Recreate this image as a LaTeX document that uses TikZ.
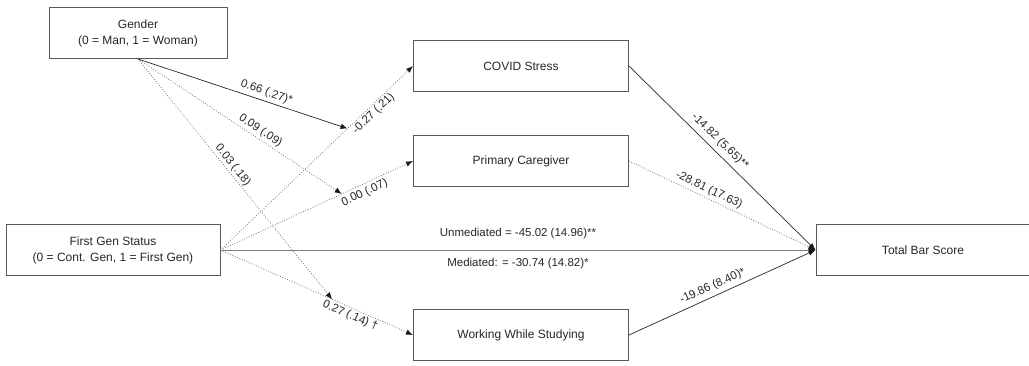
\documentclass[tikz,border=0pt]{standalone}
\usepackage{fontspec}
\setmainfont{Liberation Sans}
\usetikzlibrary{arrows.meta}

\begin{document}
\begin{tikzpicture}[x=1pt,y=-1pt,
var/.style={draw=black!65, line width=1pt, minimum height=51pt,
  inner sep=0pt, align=center, text=black!85,
  font=\fontsize{12}{16}\selectfont},
est/.style={sloped, inner sep=3pt, text=black!85,
  font=\fontsize{11.5}{14}\selectfont},
tip/.style={-{Latex[length=7pt,width=5.5pt,color=black!90]}},
sig/.style={tip, line width=0.7pt, draw=black!85},
ns/.style={tip, line width=0.8pt, draw=black!55, dash pattern=on 0.8pt off 1.8pt},
]
\useasboundingbox (0,0) rectangle (1029,365);
% variables
\node[var, minimum width=178pt] (gender) at (138,33) {Gender\\(0 = Man, 1 = Woman)};
\node[var, minimum width=214pt] (fgen) at (113,250) {First Gen Status\\(0 = Cont. Gen, 1 = First Gen)};
\node[var, minimum width=215pt] (covid) at (521,66) {COVID Stress};
\node[var, minimum width=215pt] (carer) at (521,161) {Primary Caregiver};
\node[var, minimum width=215pt] (work) at (521,335) {Working While Studying};
\node[var, minimum width=214pt] (total) at (923,250) {Total Bar Score};
% a paths
\draw[ns] (fgen.east) -- coordinate[pos=0.66] (mcovid)
  node[est, pos=0.77, below, inner sep=1.5pt] {-0.27 (.21)} (covid.west);
\draw[ns] (fgen.east) -- coordinate[pos=0.63] (mcarer)
  node[est, pos=0.73, below] {0.00 (.07)} (carer.west);
\draw[ns] (fgen.east) -- coordinate[pos=0.58] (mwork)
  node[est, pos=0.69, below, inner sep=2pt] {0.27 (.14) †} (work.west);
% moderation by gender
\draw[sig] (gender.south) -- node[est, pos=0.6, above] {0.66 (.27)*} (mcovid);
\draw[ns] (gender.south) -- node[est, pos=0.58, above, inner sep=2pt] {0.09 (.09)} (mcarer);
\draw[ns] (gender.south) -- node[est, pos=0.46, above, inner sep=1.5pt] {0.03 (.18)} (mwork);
% b paths
\draw[sig] (covid.east) -- node[est, pos=0.45, above, inner sep=4.5pt] {-14.82 (5.65)**} (total.west);
\draw[ns] (carer.east) -- node[est, pos=0.41, above, inner sep=2.5pt] {-28.81 (17.63)} (total.west);
\draw[sig] (work.east) -- node[est, pos=0.47, above, inner sep=4pt] {-19.86 (8.40)*} (total.west);
% direct path
\draw[tip, line width=1pt, draw=black!50] (fgen.east) --
  node[est, pos=0.5, above=8pt] {Unmediated = -45.02 (14.96)**}
  node[est, pos=0.5, below=5pt] {Mediated: = -30.74 (14.82)*} (total.west);
\end{tikzpicture}
\end{document}
